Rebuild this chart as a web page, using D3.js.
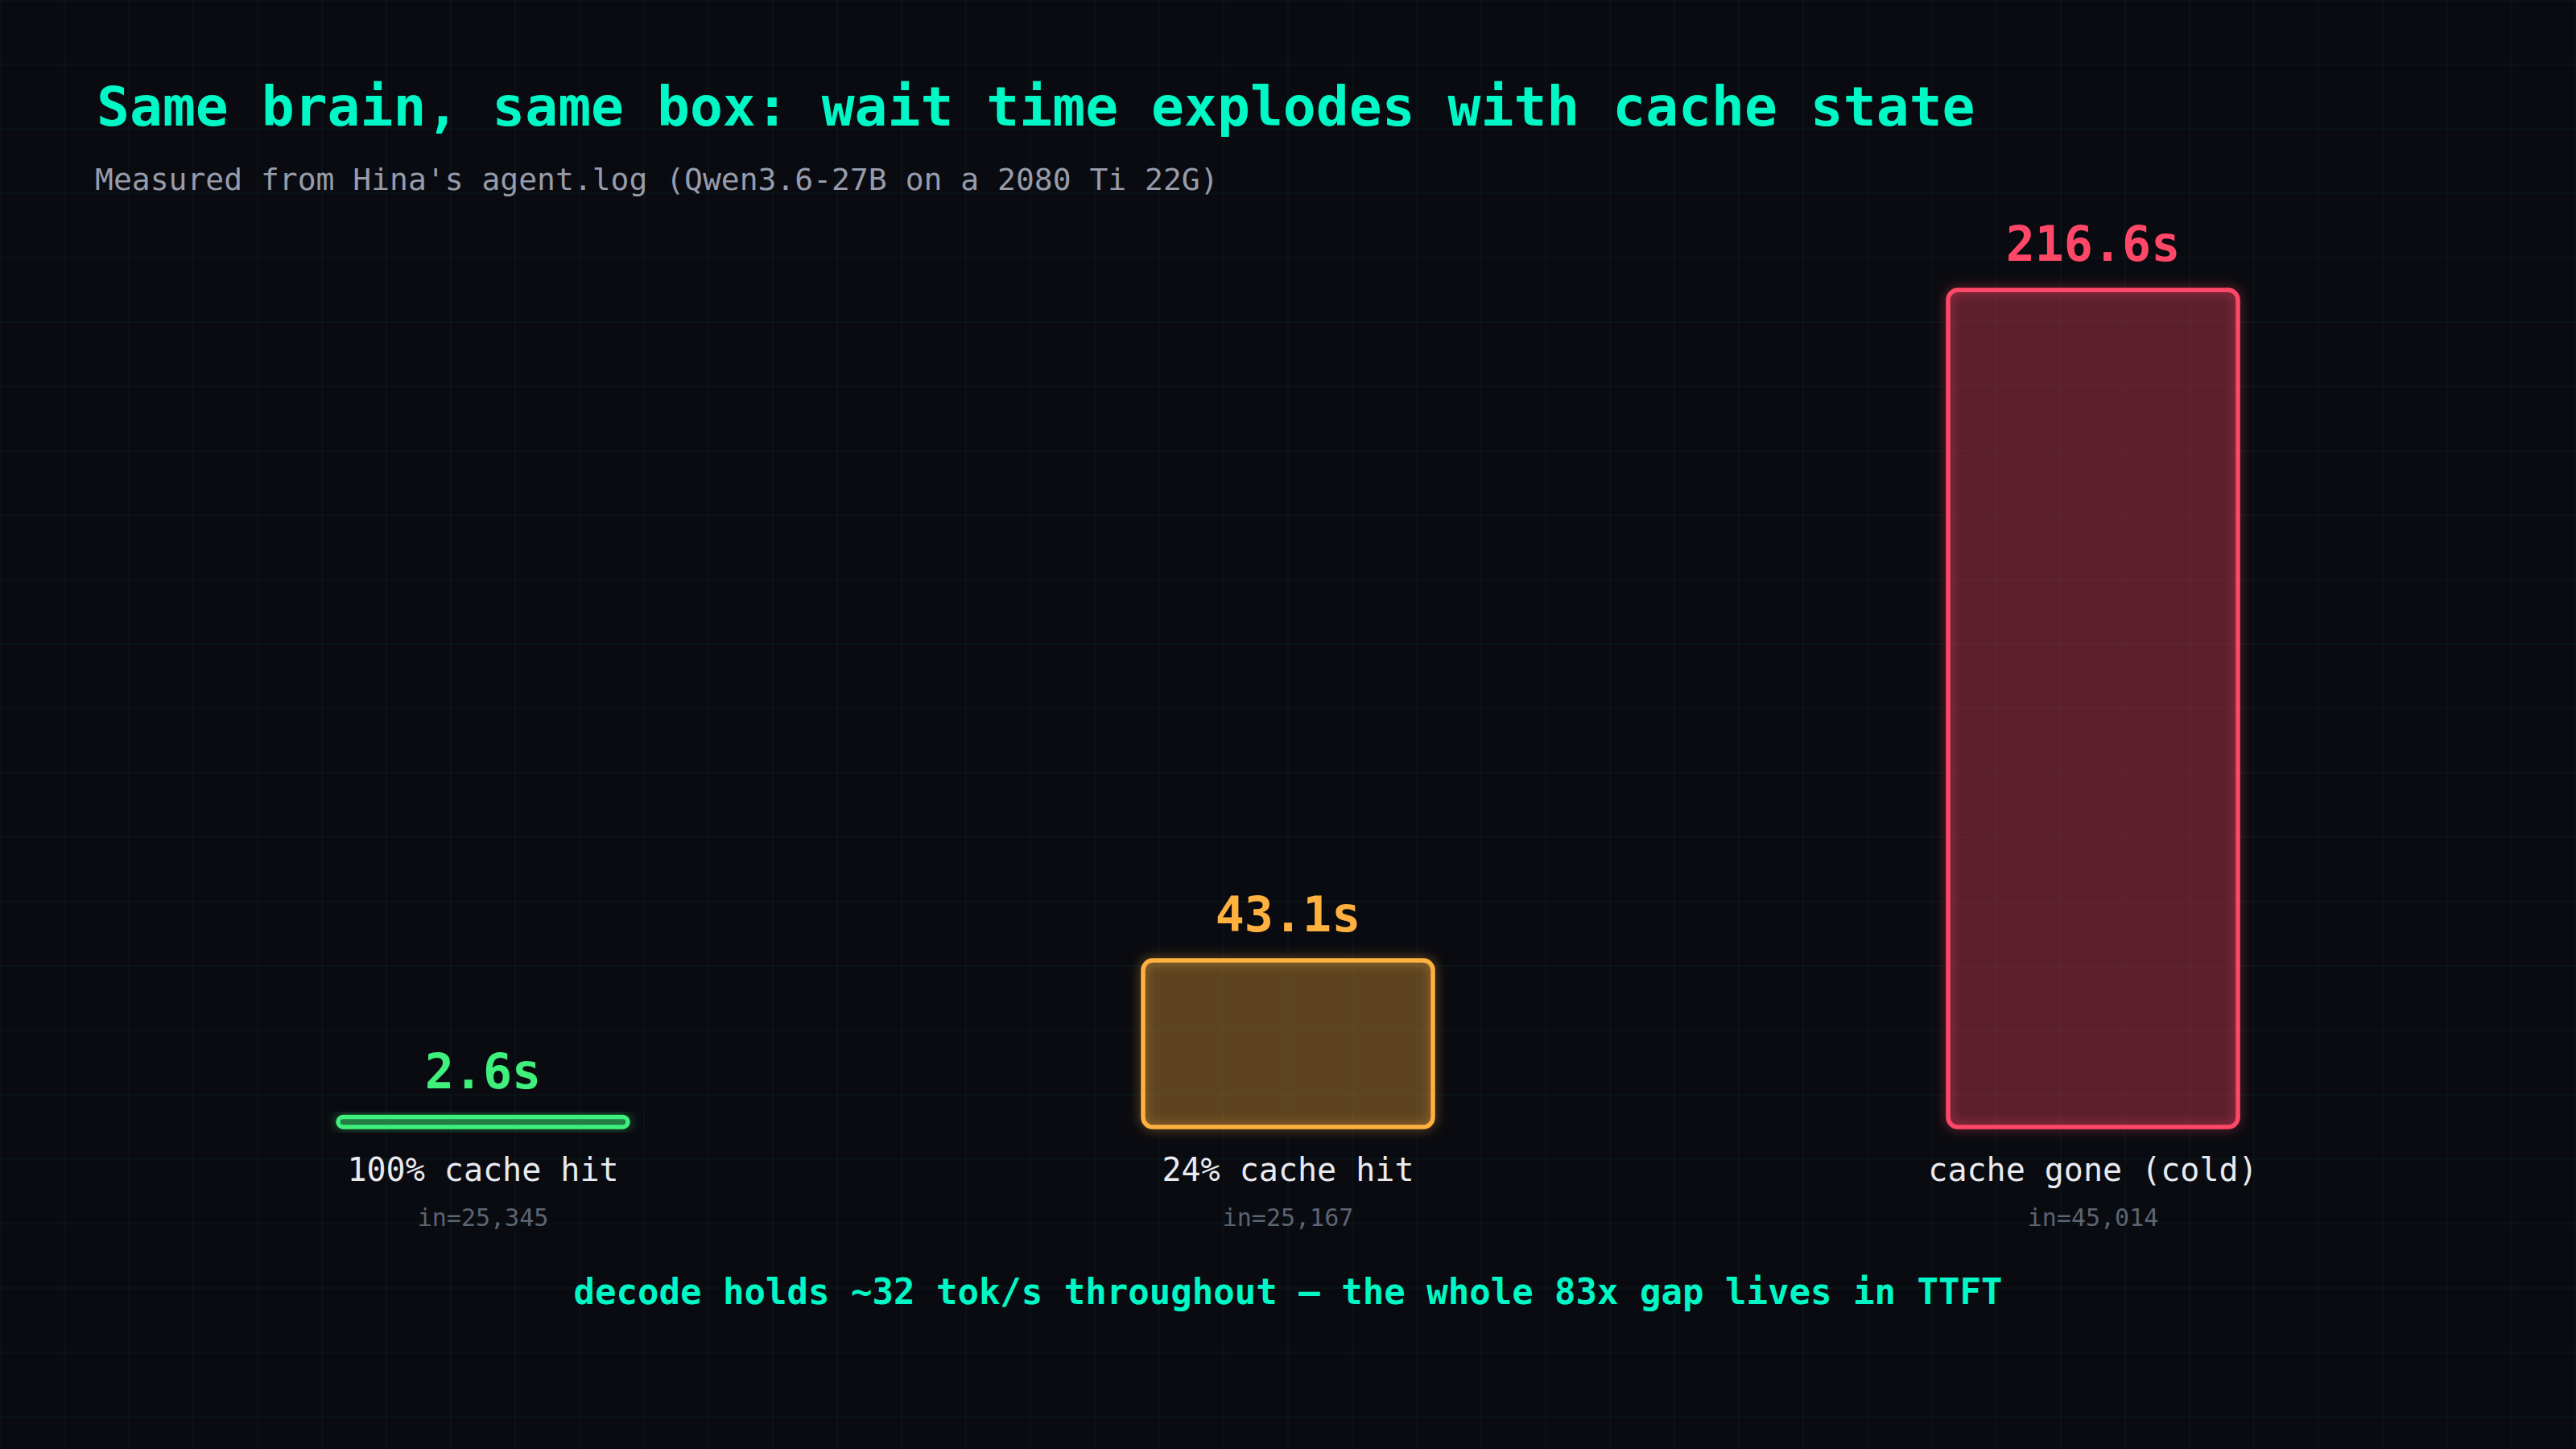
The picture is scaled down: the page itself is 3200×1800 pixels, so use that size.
<!DOCTYPE html>
<html>
<head>
<meta charset="utf-8">
<script src="https://cdn.jsdelivr.net/npm/d3@7"></script>
<style>
  html, body { margin: 0; padding: 0; background: #0a0b10; }
  svg { display: block; }
</style>
</head>
<body>
<div id="chart"></div>
<script>
const categories = ["100% cache hit", "24% cache hit", "cache gone (cold)"];
const waitSeconds = [2.6, 43.1, 216.6];
const inputTokens = ["in=25,345", "in=25,167", "in=45,014"];
const barColors = ["#3ff07c", "#ffb13f", "#ff4768"];

const titleText = "Same brain, same box: wait time explodes with cache state";
const subtitleText = "Measured from Hina's agent.log (Qwen3.6-27B on a 2080 Ti 22G)";
const footerText = "decode holds ~32 tok/s throughout \u2014 the whole 83x gap lives in TTFT";

const width = 3200;
const height = 1800;
const mono = "'DejaVu Sans Mono', 'Liberation Mono', monospace";

const svg = d3.select("#chart").append("svg")
    .attr("width", width)
    .attr("height", height);

// background + faint grid
svg.append("rect")
    .attr("width", width)
    .attr("height", height)
    .attr("fill", "#0a0b10");

const grid = svg.append("g").attr("stroke", "rgba(0,255,200,0.05)").attr("stroke-width", 1.5);
d3.range(0, width + 1, 80).forEach(gx => {
    grid.append("line").attr("x1", gx).attr("x2", gx).attr("y1", 0).attr("y2", height);
});
d3.range(0, height + 1, 80).forEach(gy => {
    grid.append("line").attr("x1", 0).attr("x2", width).attr("y1", gy).attr("y2", gy);
});

// glow filters, one per bar colour
const defs = svg.append("defs");
barColors.forEach((c, i) => {
    const f = defs.append("filter")
        .attr("id", `glow${i}`)
        .attr("x", "-20%").attr("y", "-50%")
        .attr("width", "140%").attr("height", "200%");
    f.append("feDropShadow")
        .attr("dx", 0).attr("dy", 0)
        .attr("stdDeviation", 7)
        .attr("flood-color", c)
        .attr("flood-opacity", 0.55);
});

// Title
svg.append("text")
    .attr("x", 120)
    .attr("y", 156)
    .attr("font-family", mono)
    .attr("font-size", "68px")
    .attr("font-weight", "bold")
    .attr("fill", "#00f7c6")
    .text(titleText);

svg.append("text")
    .attr("x", 118)
    .attr("y", 236)
    .attr("font-family", mono)
    .attr("font-size", "38px")
    .attr("fill", "#969cab")
    .text(subtitleText);

const x = d3.scaleBand()
    .domain(categories)
    .range([100, 3100])
    .paddingInner(0.64)
    .paddingOuter(0.32);

const y = d3.scaleLinear()
    .domain([0, 240])
    .range([1400, 248]);

const rows = categories.map((c, i) => ({
    cat: c, value: waitSeconds[i], tokens: inputTokens[i], color: barColors[i], idx: i
}));

const bars = svg.append("g").selectAll("g").data(rows).join("g");

// translucent fill (no glow underneath)
bars.append("rect")
    .attr("x", d => x(d.cat))
    .attr("y", d => y(d.value))
    .attr("width", x.bandwidth())
    .attr("height", d => y(0) - y(d.value))
    .attr("rx", d => Math.min(12, (y(0) - y(d.value)) / 2))
    .attr("fill", d => d.color)
    .attr("fill-opacity", 0.34);

// glowing outline
bars.append("rect")
    .attr("x", d => x(d.cat))
    .attr("y", d => y(d.value))
    .attr("width", x.bandwidth())
    .attr("height", d => y(0) - y(d.value))
    .attr("rx", d => Math.min(12, (y(0) - y(d.value)) / 2))
    .attr("fill", "none")
    .attr("stroke", d => d.color)
    .attr("stroke-width", 5.5)
    .attr("filter", d => `url(#glow${d.idx})`);

// value labels
bars.append("text")
    .attr("x", d => x(d.cat) + x.bandwidth() / 2)
    .attr("y", d => y(d.value) - 36)
    .attr("text-anchor", "middle")
    .attr("font-family", mono)
    .attr("font-size", "60px")
    .attr("font-weight", "bold")
    .attr("fill", d => d.color)
    .text(d => `${d.value}s`);

// category labels
bars.append("text")
    .attr("x", d => x(d.cat) + x.bandwidth() / 2)
    .attr("y", 1467)
    .attr("text-anchor", "middle")
    .attr("font-family", mono)
    .attr("font-size", "40px")
    .attr("fill", "#e8eaf0")
    .text(d => d.cat);

bars.append("text")
    .attr("x", d => x(d.cat) + x.bandwidth() / 2)
    .attr("y", 1523)
    .attr("text-anchor", "middle")
    .attr("font-family", mono)
    .attr("font-size", "30px")
    .attr("fill", "#5d6472")
    .text(d => d.tokens);

// footer note
svg.append("text")
    .attr("x", width / 2)
    .attr("y", 1620)
    .attr("text-anchor", "middle")
    .attr("font-family", mono)
    .attr("font-size", "44px")
    .attr("font-weight", "bold")
    .attr("fill", "#00f7c6")
    .text(footerText);
</script>
</body>
</html>
